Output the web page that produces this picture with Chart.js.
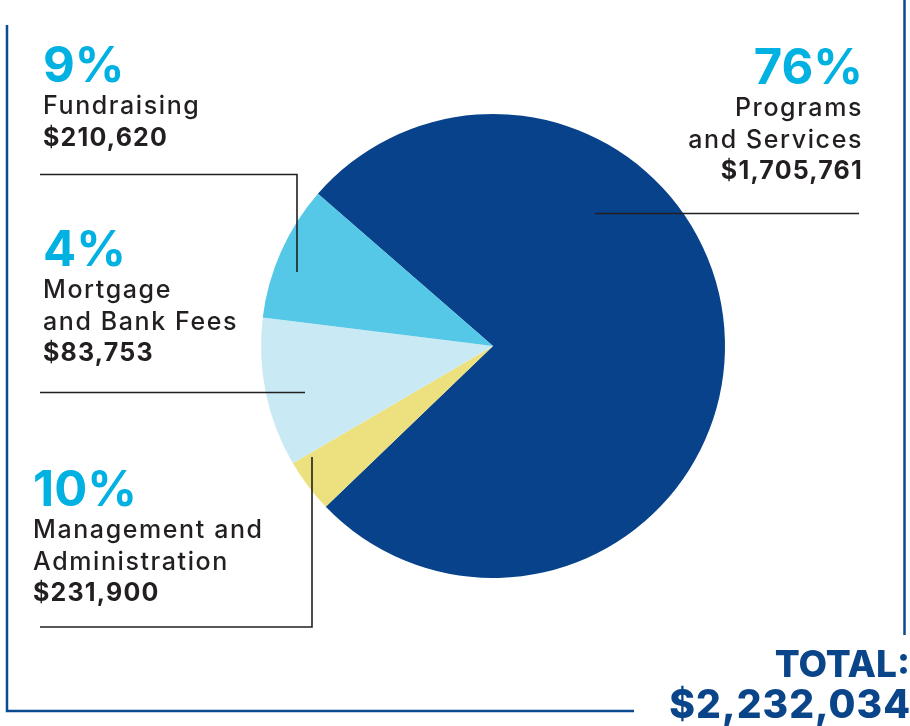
<!DOCTYPE html>
<html>
<head>
<meta charset="utf-8">
<script src="https://cdn.jsdelivr.net/npm/chart.js@4.4.1/dist/chart.umd.min.js"></script>
<style>
    html, body { margin: 0; padding: 0; background: #fff; }
    #wrap { position: relative; width: 910px; height: 726px; overflow: hidden; font-family: Inter, "Noto Sans", sans-serif; }
    #wrap canvas { position: absolute; left: 0; top: 0; }
    .lbl { position: absolute; color: #231f20; font-size: 25px; line-height: 31.7px; font-weight: 500; white-space: nowrap; letter-spacing: 1.6px; }
    .lbl .pct { color: #00b1e1; font-size: 49px; line-height: 50px; font-weight: 700; letter-spacing: 0; }
    .lbl .amt { font-weight: 700; letter-spacing: 1.2px; }
    .right { text-align: right; }
    #total { position: absolute; right: 0; top: 645px; color: #0a4489; font-weight: 800; text-align: right; white-space: nowrap; }
    #total .t1 { font-size: 37px; line-height: 37px; }
    #total .t2 { font-size: 39px; line-height: 39px; margin-top: 2px; letter-spacing: 1px; margin-right: -1px; }
</style>
</head>
<body>
<div id="wrap">
    <canvas id="pie"></canvas>
    <div class="lbl right" id="l0" style="right:47px; top:42px;"></div>
    <div class="lbl" id="l3" style="left:43px; top:40px;"></div>
    <div class="lbl" id="l1" style="left:43px; top:224px;"></div>
    <div class="lbl" id="l2" style="left:33px; top:464px;"></div>
    <div id="total"><div class="t1">TOTAL:</div><div class="t2" id="totalVal"></div></div>
</div>
<script>
// data (slice order = clockwise from the top-left)
var categories = ["Programs\nand Services", "Mortgage\nand Bank Fees", "Management and\nAdministration", "Fundraising"];
var amounts = [1705761, 83753, 231900, 210620];

var total = amounts.reduce(function (a, b) { return a + b; }, 0);

function money(v) {
    return "$" + v.toLocaleString("en-US");
}

// fill the text blocks
categories.forEach(function (cat, i) {
    var el = document.getElementById("l" + i);
    var pct = Math.round(amounts[i] / total * 100);
    var html = '<div class="pct">' + pct + '%</div>';
    cat.split("\n").forEach(function (line) {
        html += '<div>' + line + '</div>';
    });
    html += '<div class="amt">' + money(amounts[i]) + '</div>';
    el.innerHTML = html;
});
document.getElementById("totalVal").textContent = money(total);

// leader lines + frame
var decor = {
    id: "decor",
    afterDraw: function (chart) {
        var ctx = chart.ctx;
        ctx.save();
        ctx.strokeStyle = "#231f20";
        ctx.lineWidth = 1.6;
        ctx.beginPath();
        ctx.moveTo(595, 213.5); ctx.lineTo(859, 213.5);
        ctx.moveTo(40, 174.5); ctx.lineTo(297, 174.5); ctx.lineTo(297, 272);
        ctx.moveTo(40, 392.5); ctx.lineTo(305, 392.5);
        ctx.moveTo(312, 457); ctx.lineTo(312, 627); ctx.lineTo(40, 627);
        ctx.stroke();

        ctx.strokeStyle = "#0a4a8f";
        ctx.lineWidth = 2.5;
        ctx.beginPath();
        ctx.moveTo(7, 25); ctx.lineTo(7, 711); ctx.lineTo(634, 711);
        ctx.moveTo(904.5, 0); ctx.lineTo(904.5, 635);
        ctx.stroke();
        ctx.restore();
    }
};

var chart = new Chart(document.getElementById("pie"), {
    type: "pie",
    data: {
        labels: categories,
        datasets: [{
            data: amounts,
            backgroundColor: ["#07428a", "#ede17f", "#c9eaf4", "#54c8e6"],
            borderWidth: 0
        }]
    },
    options: {
        responsive: true,
        maintainAspectRatio: false,
        animation: false,
        rotation: 311,
        layout: { padding: { left: 261, top: 114, right: 185, bottom: 148 } },
        plugins: {
            legend: { display: false },
            tooltip: { enabled: false }
        }
    },
    plugins: [decor]
});
</script>
</body>
</html>
